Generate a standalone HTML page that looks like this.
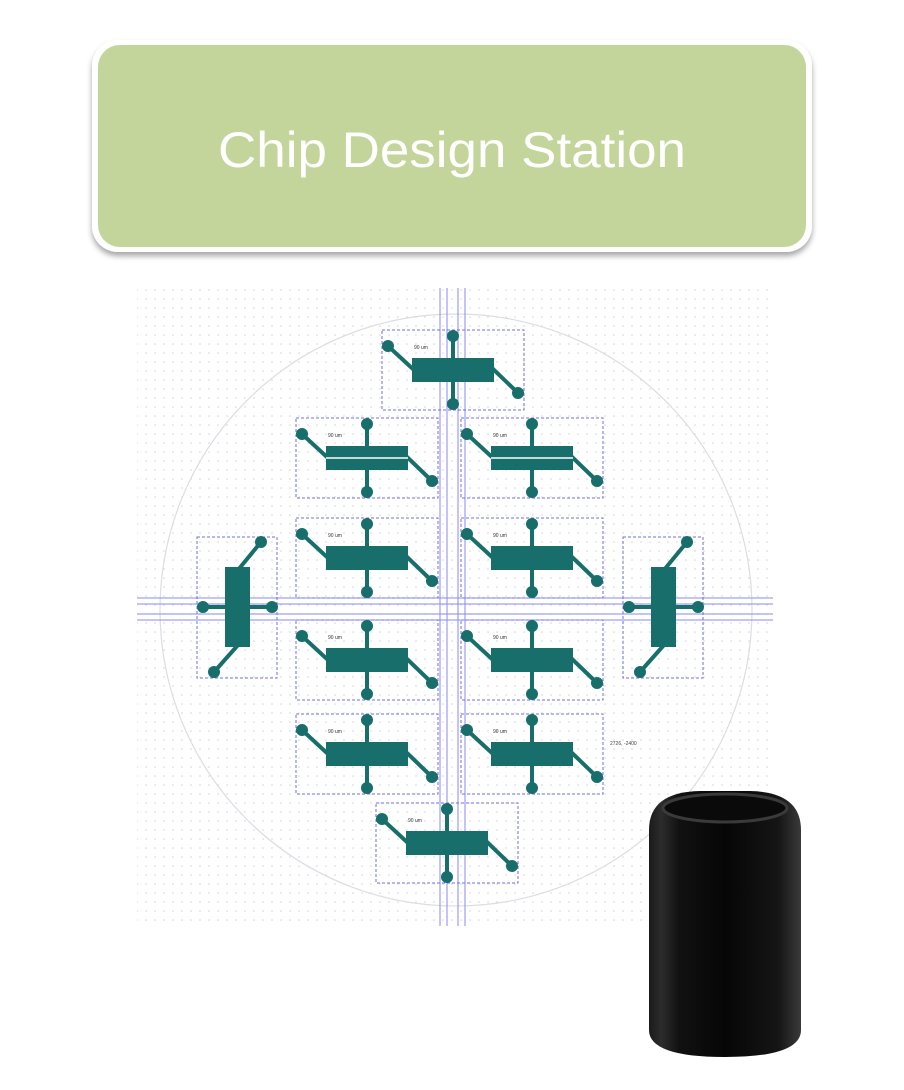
<!DOCTYPE html>
<html><head><meta charset="utf-8"><style>
html,body{margin:0;padding:0;background:#fff;width:904px;height:1090px;overflow:hidden}
</style></head><body>
<svg width="904" height="1090" viewBox="0 0 904 1090" xmlns="http://www.w3.org/2000/svg">
<defs>
<filter id="sh" x="-5%" y="-10%" width="110%" height="125%"><feDropShadow dx="0" dy="4" stdDeviation="3" flood-color="#000" flood-opacity="0.35"/></filter>
<pattern id="dots" width="9" height="9" patternUnits="userSpaceOnUse"><circle cx="2" cy="2" r="0.8" fill="#d4d4dc"/></pattern>
<g id="comp">
<rect x="0" y="0" width="142" height="80" fill="none" stroke="#6f6fe8" stroke-width="1" stroke-dasharray="3,2"/>
<line x1="71" y1="6" x2="71" y2="74" stroke="#176e6a" stroke-width="4"/>
<circle cx="71" cy="6" r="6" fill="#176e6a"/><circle cx="71" cy="74" r="6" fill="#176e6a"/>
<line x1="6" y1="16" x2="32" y2="40" stroke="#176e6a" stroke-width="4"/>
<circle cx="6" cy="16" r="6" fill="#176e6a"/>
<line x1="110" y1="38" x2="136" y2="63" stroke="#176e6a" stroke-width="4"/>
<circle cx="136" cy="63" r="6" fill="#176e6a"/>
<rect x="30" y="28" width="82" height="24" fill="#176e6a"/>
<text x="32" y="19" font-family="Liberation Sans,sans-serif" font-size="5" fill="#333">90 um</text>
</g>
<g id="comp2">
<use href="#comp"/>
<line x1="30" y1="40" x2="112" y2="40" stroke="#fff" stroke-width="1.5"/>
</g>
<linearGradient id="mac" x1="0" x2="1" y1="0" y2="0">
<stop offset="0" stop-color="#1a1a1a"/><stop offset="0.08" stop-color="#2c2c2c"/><stop offset="0.2" stop-color="#111"/><stop offset="0.5" stop-color="#060606"/><stop offset="0.85" stop-color="#151515"/><stop offset="1" stop-color="#3a3a3a"/>
</linearGradient>
</defs>

<rect x="92" y="40" width="720" height="212" rx="26" fill="#fff" filter="url(#sh)"/>
<rect x="98" y="45" width="708" height="202" rx="22" fill="#c4d59b"/>
<text x="452" y="167" text-anchor="middle" font-family="Liberation Sans,sans-serif" font-size="50" fill="#fff" textLength="468" lengthAdjust="spacingAndGlyphs">Chip Design Station</text>

<rect x="137" y="288" width="636" height="638" fill="url(#dots)"/>
<circle cx="456" cy="610" r="296" fill="none" stroke="#dcdce4" stroke-width="1.2"/>
<g stroke="#8a8af0" stroke-width="1">
<line x1="440" y1="288" x2="440" y2="926"/><line x1="447" y1="288" x2="447" y2="926"/>
<line x1="458" y1="288" x2="458" y2="926"/><line x1="465" y1="288" x2="465" y2="926"/>
<line x1="137" y1="598" x2="773" y2="598"/><line x1="137" y1="604" x2="773" y2="604"/>
<line x1="137" y1="614" x2="773" y2="614"/><line x1="137" y1="620" x2="773" y2="620"/>
</g>

<use href="#comp" x="382" y="330"/>
<use href="#comp2" x="296" y="418"/>
<use href="#comp2" x="461" y="418"/>
<use href="#comp" x="296" y="518"/>
<use href="#comp" x="461" y="518"/>
<use href="#comp" x="296" y="620"/>
<use href="#comp" x="461" y="620"/>
<use href="#comp" x="296" y="714"/>
<use href="#comp" x="461" y="714"/>
<use href="#comp" x="376" y="803"/>

<g id="vcomp">
<rect x="197" y="537" width="80" height="141" fill="none" stroke="#6f6fe8" stroke-width="1" stroke-dasharray="3,2"/>
<line x1="203" y1="607" x2="272" y2="607" stroke="#176e6a" stroke-width="4"/>
<circle cx="203" cy="607" r="6" fill="#176e6a"/><circle cx="272" cy="607" r="6" fill="#176e6a"/>
<line x1="238" y1="570" x2="261" y2="542" stroke="#176e6a" stroke-width="4"/>
<circle cx="261" cy="542" r="6" fill="#176e6a"/>
<line x1="238" y1="645" x2="214" y2="672" stroke="#176e6a" stroke-width="4"/>
<circle cx="214" cy="672" r="6" fill="#176e6a"/>
<rect x="225" y="567" width="25" height="80" fill="#176e6a"/>
</g>
<use href="#vcomp" x="426" y="0"/>
<text x="610" y="745" font-family="Liberation Sans,sans-serif" font-size="5" fill="#444">2726, -2400</text>

<path d="M649,830 Q649,792 700,791 L750,791 Q801,792 801,830 L801,1030 Q801,1057 725,1057 Q649,1057 649,1030 Z" fill="url(#mac)"/>
<ellipse cx="725" cy="808" rx="62" ry="14" fill="#0a0a0a" stroke="#3a3a3a" stroke-width="3"/>
</svg>
</body></html>
